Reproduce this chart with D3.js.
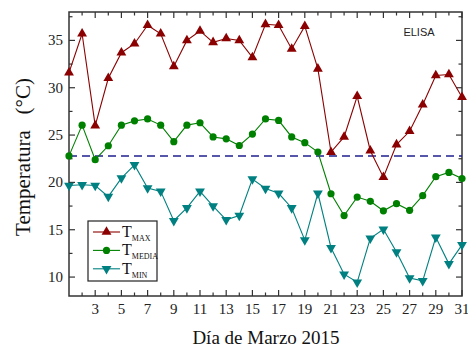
<!DOCTYPE html>
<html>
<head>
<meta charset="utf-8">
<script src="https://cdn.jsdelivr.net/npm/d3@7"></script>
<style>
  body { margin: 0; background: #fff; }
  svg { display: block; }
</style>
</head>
<body>
<svg width="468" height="351"></svg>
<script>
var dias = d3.range(1, 32);

var tMax = [31.6, 35.7, 26.0, 31.0, 33.7, 34.65, 36.6, 35.7, 32.25, 35.0,
            36.0, 34.8, 35.2, 35.0, 33.2, 36.7, 36.6, 34.1, 36.5, 32.0,
            23.2, 24.8, 29.1, 23.35, 20.55, 24.0, 25.4, 28.2, 31.3, 31.4, 29.0];

var tMedia = [22.8, 26.05, 22.4, 23.87, 26.05, 26.5, 26.7, 26.05, 24.3, 26.05,
              26.3, 24.8, 24.6, 23.9, 25.1, 26.7, 26.55, 24.8, 24.2, 23.2,
              18.8, 16.5, 18.45, 18.0, 17.0, 17.75, 17.05, 18.6, 20.6, 21.05, 20.4];

var tMin = [19.67, 19.75, 19.67, 18.5, 20.45, 21.85, 19.4, 19.05, 15.95, 17.3,
            19.05, 17.5, 16.05, 16.5, 20.35, 19.35, 18.85, 17.3, 13.9, 18.85,
            13.1, 10.3, 9.45, 14.1, 15.05, 12.65, 9.9, 9.6, 14.2, 11.4, 13.4];

// linea de referencia (discontinua)
var tReferencia = 22.8;

var xTicks = d3.range(3, 32, 2);
var yTicks = [10, 15, 20, 25, 30, 35];

var series = [
  { name: "MAX", values: tMax, color: "#8b0000", marker: "up" },
  { name: "MEDIA", values: tMedia, color: "#008000", marker: "circle" },
  { name: "MIN", values: tMin, color: "#008080", marker: "down" }
];

var svg = d3.select("svg");

// "top" is taken by window.top, so use other names
var plotL = 69, plotR = 462, plotT = 12, plotB = 296;

var x = d3.scaleLinear().domain([1, 31]).range([plotL, plotR]);
var y = d3.scaleLinear().domain([8, 38]).range([plotB, plotT]);

var axisColor = "#333";
var serif = "'Liberation Serif', 'Times New Roman', serif";

// marcas de los ejes (hacia dentro)
var g = svg.append("g");

function tickLines(vals, len, side) {
  vals.forEach(function(v) {
    var l = g.append("line").attr("stroke", axisColor).attr("stroke-width", 1.2);
    if (side == "bottom") l.attr("x1", x(v)).attr("x2", x(v)).attr("y1", plotB).attr("y2", plotB - len);
    if (side == "top") l.attr("x1", x(v)).attr("x2", x(v)).attr("y1", plotT).attr("y2", plotT + len);
    if (side == "left") l.attr("x1", plotL).attr("x2", plotL + len).attr("y1", y(v)).attr("y2", y(v));
    if (side == "right") l.attr("x1", plotR).attr("x2", plotR - len).attr("y1", y(v)).attr("y2", y(v));
  });
}

var xMinor = d3.range(2, 31, 2);
var yMinor = d3.range(10, 38, 2.5).filter(function(v) { return v % 5 != 0; });

tickLines(xTicks, 6, "bottom");
tickLines(xMinor, 3.5, "bottom");
tickLines(xTicks, 6, "top");
tickLines(xMinor, 3.5, "top");
tickLines(yTicks, 6, "left");
tickLines(yMinor, 3.5, "left");
tickLines(yTicks, 6, "right");
tickLines(yMinor, 3.5, "right");

g.append("rect")
  .attr("x", plotL).attr("y", plotT)
  .attr("width", plotR - plotL).attr("height", plotB - plotT)
  .attr("fill", "none")
  .attr("stroke", axisColor)
  .attr("stroke-width", 1.5);

// etiquetas de los ejes
svg.selectAll(".xlab")
  .data(xTicks)
  .enter()
  .append("text")
  .attr("x", function(d) { return x(d); })
  .attr("y", 314)
  .attr("text-anchor", "middle")
  .attr("font-family", serif)
  .attr("font-size", "15px")
  .attr("fill", "#222")
  .text(function(d) { return d; });

svg.selectAll(".ylab")
  .data(yTicks)
  .enter()
  .append("text")
  .attr("x", 63)
  .attr("y", function(d) { return y(d) + 5; })
  .attr("text-anchor", "end")
  .attr("font-family", serif)
  .attr("font-size", "15px")
  .attr("fill", "#222")
  .text(function(d) { return d; });

svg.append("text")
  .attr("x", 266)
  .attr("y", 344)
  .attr("text-anchor", "middle")
  .attr("font-family", serif)
  .attr("font-size", "19px")
  .attr("fill", "#111")
  .text("Día de Marzo 2015");

svg.append("text")
  .attr("transform", "translate(30,157) rotate(-90)")
  .attr("text-anchor", "middle")
  .attr("font-family", serif)
  .attr("font-size", "21px")
  .attr("fill", "#111")
  .attr("xml:space", "preserve")
  .text("Temperatura   (°C)");

svg.append("text")
  .attr("x", 419)
  .attr("y", 36)
  .attr("text-anchor", "middle")
  .attr("font-family", "'Liberation Sans', Arial, sans-serif")
  .attr("font-size", "11px")
  .attr("fill", "#222")
  .text("ELISA");

// linea de referencia
svg.append("line")
  .attr("x1", plotL).attr("x2", plotR)
  .attr("y1", y(tReferencia)).attr("y2", y(tReferencia))
  .attr("stroke", "#1f1f8f")
  .attr("stroke-width", 1.5)
  .attr("stroke-dasharray", "8,5");

// marcadores
var triUp = d3.symbol().type(d3.symbolTriangle).size(42);

function drawMarker(sel, type, color) {
  if (type == "circle") {
    sel.append("circle").attr("r", 3.6).attr("fill", color);
  } else {
    sel.append("path")
      .attr("d", triUp())
      .attr("transform", type == "down" ? "rotate(180)" : null)
      .attr("fill", color);
  }
}

var line = d3.line()
  .x(function(d, i) { return x(dias[i]); })
  .y(function(d) { return y(d); });

series.forEach(function(s) {
  svg.append("path")
    .attr("d", line(s.values))
    .attr("fill", "none")
    .attr("stroke", s.color)
    .attr("stroke-width", 1.1);

  svg.selectAll(".m-" + s.name)
    .data(s.values)
    .enter()
    .append("g")
    .attr("transform", function(d, i) { return "translate(" + x(dias[i]) + "," + y(d) + ")"; })
    .each(function() { drawMarker(d3.select(this), s.marker, s.color); });
});

// leyenda
var legend = svg.append("g");
legend.append("rect")
  .attr("x", 88).attr("y", 221)
  .attr("width", 69).attr("height", 60)
  .attr("fill", "#fff")
  .attr("stroke", "#222")
  .attr("stroke-width", 1.2);

series.forEach(function(s, i) {
  var ly = 232 + i * 18.4;
  legend.append("line")
    .attr("x1", 93).attr("x2", 120)
    .attr("y1", ly).attr("y2", ly)
    .attr("stroke", s.color)
    .attr("stroke-width", 1.1);
  var mk = legend.append("g").attr("transform", "translate(106.5," + ly + ")");
  drawMarker(mk, s.marker, s.color);
  var t = legend.append("text")
    .attr("x", 122)
    .attr("y", ly + 5)
    .attr("font-family", serif)
    .attr("font-size", "16px")
    .attr("fill", "#111");
  t.append("tspan").text("T");
  t.append("tspan").attr("font-size", "8px").attr("dy", 4).text(s.name);
});
</script>
</body>
</html>
